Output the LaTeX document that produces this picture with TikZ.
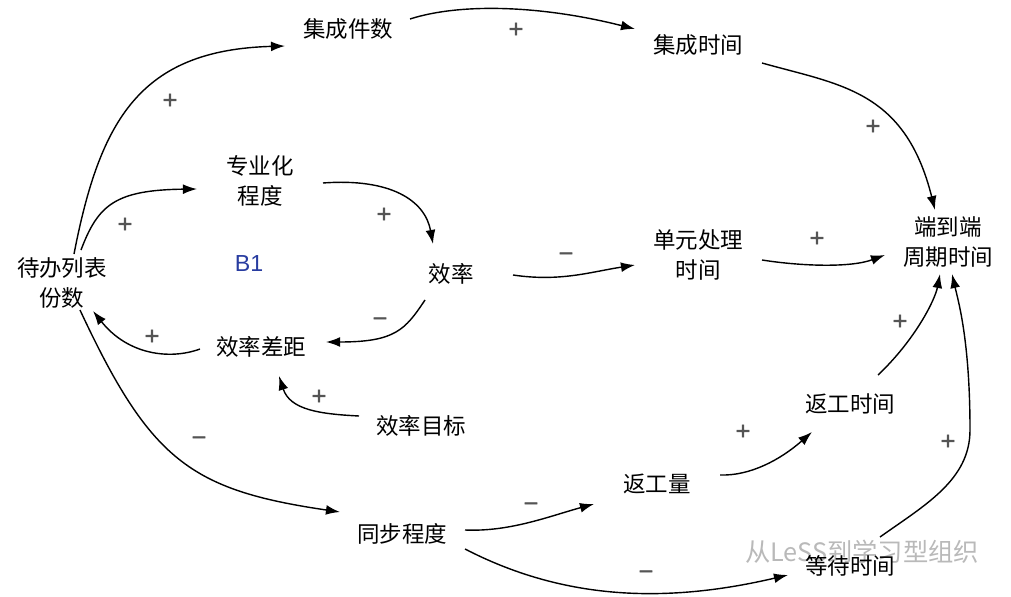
\documentclass[tikz,border=0pt]{standalone}
\usepackage{fontspec}
\newfontfamily\cjk{Noto Sans CJK SC}
\newfontfamily\segni[FakeBold=2.5]{DejaVu Sans}
\newfontfamily\lat{Liberation Sans}
\usetikzlibrary{calc}
\usetikzlibrary{arrows.meta}

\definecolor{segno}{RGB}{85,85,85}
\definecolor{blu}{RGB}{40,60,160}
\definecolor{filigrana}{RGB}{185,185,185}

\tikzset{
  var/.style   = {font=\cjk\fontsize{16pt}{21pt}\selectfont, align=center, inner sep=0pt},
  sgn/.style   = {font=\segni\fontsize{14pt}{14pt}\selectfont, text=segno, inner sep=0pt},
  arr/.style   = {-{Latex[length=10pt,width=7pt]}, line width=1pt},
  wmark/.style = {font=\cjk\fontsize{18pt}{18pt}\selectfont, text=filigrana, inner sep=0pt},
}

\begin{document}
\begin{tikzpicture}[x=0.025cm, y=-0.025cm]
  % Area del disegno
  \useasboundingbox (0,0) rectangle (1011,597);

  % Variabili
  \node[var] (backlog)    at (62,283)  {待办列表\\份数};
  \node[var] (integcount) at (348,29)  {集成件数};
  \node[var] (integtime)  at (698,45)  {集成时间};
  \node[var] (special)    at (260,181) {专业化\\程度};
  \node[var] (eff)        at (451,274) {效率};
  \node[var] (unittime)   at (698,255) {单元处理\\时间};
  \node[var] (e2e)        at (948,242) {端到端\\周期时间};
  \node[var] (gap)        at (261,347) {效率差距};
  \node[var] (target)     at (421,426) {效率目标};
  \node[var] (sync)       at (402,534) {同步程度};
  \node[var] (rework)     at (657,484) {返工量};
  \node[var] (reworktime) at (850,404) {返工时间};

  % Filigrana
  \node[wmark] (wm) at (862,552) {从LeSS到学习型组织};
  \node[var] (waittime)   at (850,566) {等待时间};

  % Anello B1
  \node[inner sep=0pt, text=blu, font=\lat\fontsize{16.5pt}{18pt}\selectfont] (loop) at (249,264) {B1};

  % Backlog -> integrazione
  \draw[arr] ($(backlog)+(12,-29)$) .. controls (100,120) and (140,50) .. ($(integcount)+(-63,17)$);
  \node[sgn] (s1) at (170,100) {+};

  % Backlog -> specializzazione
  \draw[arr] ($(backlog)+(19,-33)$) .. controls (98,205) and (115,190) .. ($(special)+(-63,8)$);
  \node[sgn] (s2) at (125,224) {+};

  % Specializzazione -> efficienza
  \draw[arr] ($(special)+(63,2)$) .. controls (390,178) and (425,200) .. ($(eff)+(-18,-30)$);
  \node[sgn] (s3) at (384,214) {+};

  % Integrazione: numero -> tempo
  \draw[arr] ($(integcount)+(62,-10)$) .. controls (460,3) and (540,5) .. ($(integtime)+(-63,-16)$);
  \node[sgn] (s4) at (516,29) {+};

  % Tempo di integrazione -> ciclo
  \draw[arr] ($(integtime)+(64,18)$) .. controls (840,85) and (905,90) .. ($(e2e)+(-13,-32)$);
  \node[sgn] (s5) at (873,126) {+};

  % Efficienza -> tempo unitario
  \draw[arr] ($(eff)+(62,1)$) .. controls (560,282) and (590,272) .. ($(unittime)+(-63,10)$);
  \node[sgn] (s6) at (566,256) {−};

  % Tempo unitario -> ciclo
  \draw[arr] ($(unittime)+(64,5)$) .. controls (800,266) and (850,268) .. ($(e2e)+(-63,13)$);
  \node[sgn] (s7) at (817,238) {+};

  % Efficienza -> divario
  \draw[arr] ($(eff)+(-26,26)$) .. controls (405,330) and (395,342) .. ($(gap)+(65,-5)$);
  \node[sgn] (s8) at (380,321) {−};

  % Divario -> backlog
  \draw[arr] ($(gap)+(-61,2)$) .. controls (170,360) and (128,355) .. ($(backlog)+(31,28)$);
  \node[sgn] (s9) at (152,336) {+};

  % Obiettivo -> divario
  \draw[arr] ($(target)+(-62,-10)$) .. controls (320,414) and (290,410) .. ($(gap)+(18,29)$);
  \node[sgn] (s10) at (319,396) {+};

  % Backlog -> sincronizzazione
  \draw[arr] ($(backlog)+(18,27)$) .. controls (150,460) and (190,490) .. ($(sync)+(-62,-22)$);
  \node[sgn] (s11) at (199,440) {−};

  % Sincronizzazione -> rilavorazione
  \draw[arr] ($(sync)+(63,-4)$) .. controls (510,532) and (550,516) .. ($(rework)+(-63,20)$);
  \node[sgn] (s12) at (531,506) {−};

  % Sincronizzazione -> attesa
  \draw[arr] ($(sync)+(63,15)$) .. controls (560,598) and (660,605) .. ($(waittime)+(-62,9)$);
  \node[sgn] (s13) at (646,574) {−};

  % Rilavorazione -> tempo di rilavorazione
  \draw[arr] ($(rework)+(63,-9)$) .. controls (750,476) and (780,460) .. ($(reworktime)+(-38,28)$);
  \node[sgn] (s14) at (743,431) {+};

  % Tempo di rilavorazione -> ciclo
  \draw[arr] ($(reworktime)+(28,-29)$) .. controls (915,340) and (935,300) .. ($(e2e)+(-8,32)$);
  \node[sgn] (s15) at (900,321) {+};

  % Attesa -> ciclo
  \draw[arr] ($(waittime)+(30,-29)$) .. controls (925,505) and (970,480) .. (970,430)
    .. controls (970,340) and (958,300) .. ($(e2e)+(4,32)$);
  \node[sgn] (s16) at (948,441) {+};
\end{tikzpicture}
\end{document}
